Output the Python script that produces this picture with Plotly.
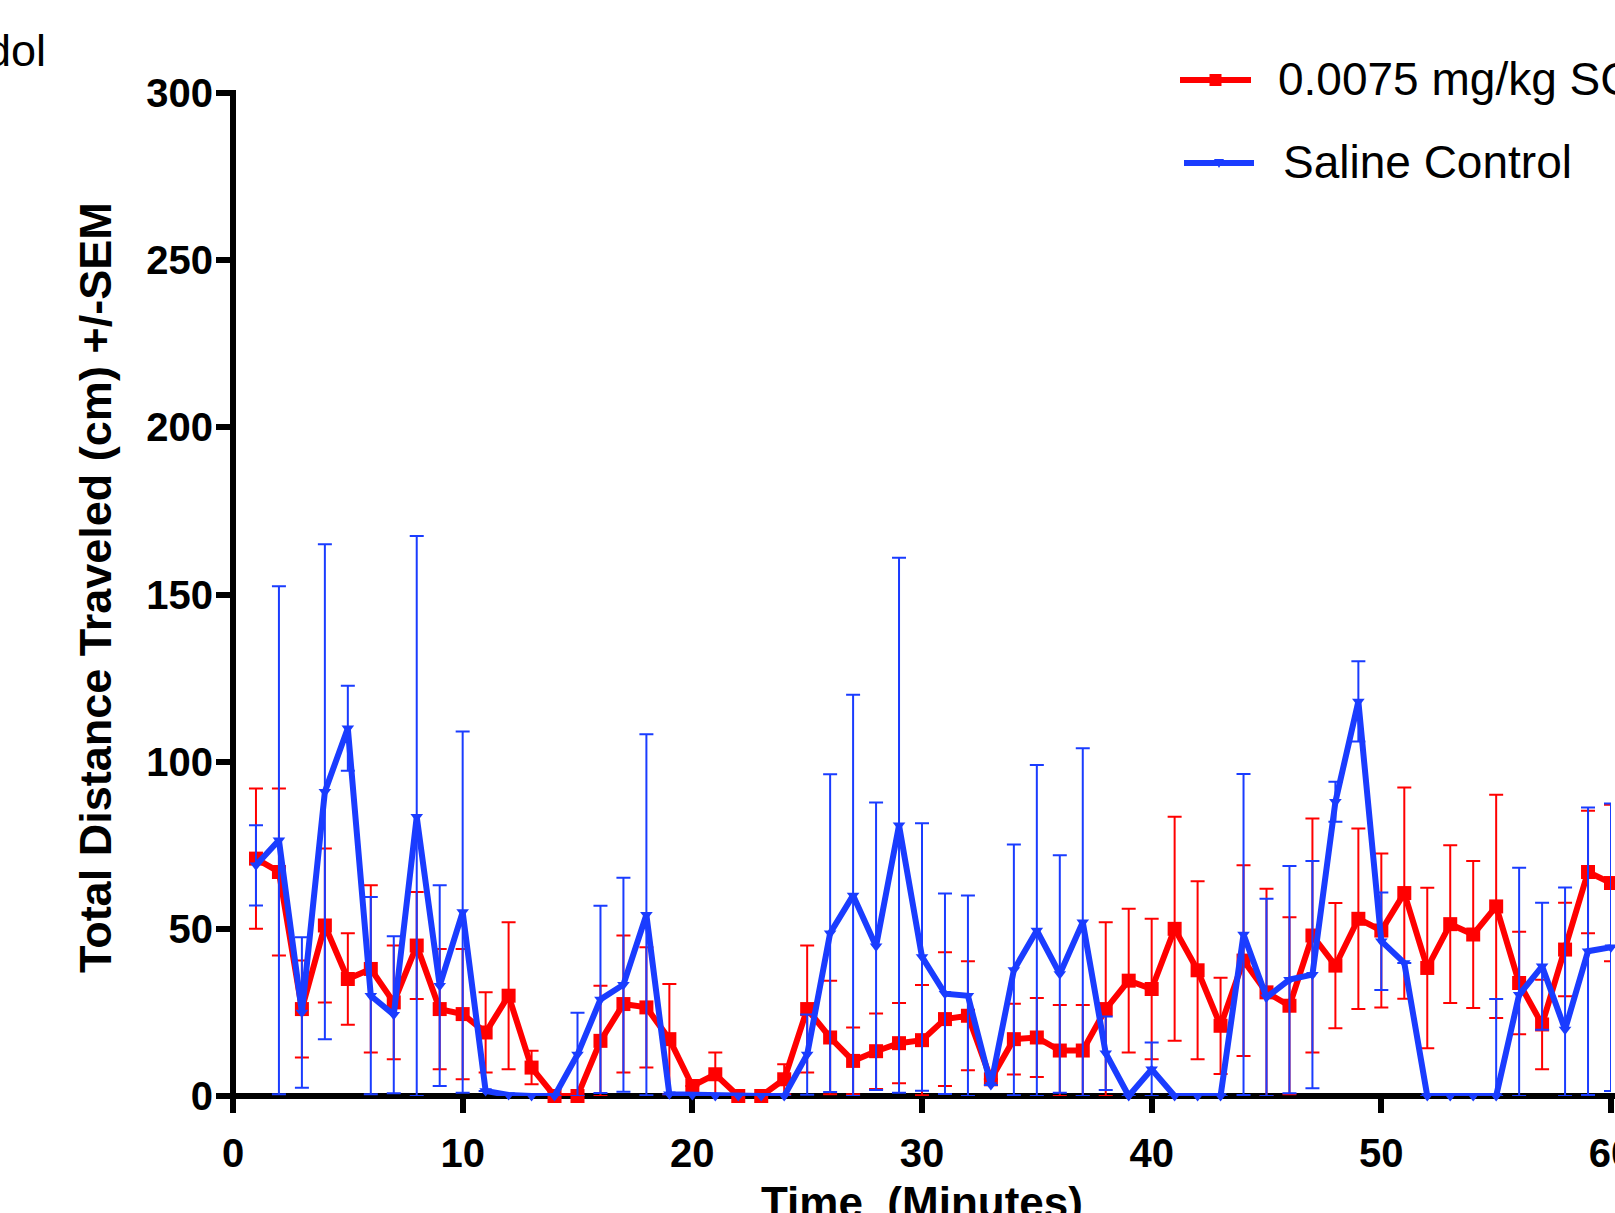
import plotly.graph_objects as go

# ---------------- data ----------------
minutes = list(range(1, 61))

dose_name = "0.0075 mg/kg SC"
dose_mean = [71, 67, 26, 51, 35, 38, 28, 45, 26, 24.5,
             19, 30, 8.5, 0, 0, 16.5, 27.5, 26.5, 17, 3,
             6.5, 0, 0, 5, 26, 17.5, 10.5, 13.4, 15.8, 16.7,
             23, 24, 5, 17, 17.5, 13.6, 13.6, 26, 34.5, 32,
             50, 37.6, 21, 40.5, 31, 27, 48, 39, 53, 49.5,
             60.7, 38.3, 51.4, 48.3, 56.7, 33.8, 21.4, 43.8, 67, 63.7]
dose_sem = [21, 25, 14.5, 23, 13.7, 25, 17, 16, 18, 19.5,
            12, 22, 5, 0, 0, 16.5, 20.5, 18, 16.5, 0,
            6.5, 0, 0, 4.5, 19, 17, 10, 11.3, 12, 16.5,
            20, 16.3, 0, 10.6, 11.8, 13.6, 13.6, 26, 21.5, 21,
            33.5, 26.6, 14.4, 28.5, 31, 26.5, 35, 18.7, 27, 23,
            31.6, 24, 23.6, 22, 33.4, 15.3, 13.4, 14, 18.3, 23.4]

saline_name = "Saline Control"
saline_mean = [69, 76.5, 25, 91, 110, 30, 24.3, 83.5, 33, 55,
               1.5, 0.3, 0, 0, 12.4, 28.9, 33.3, 54.2, 0.5, 0.3,
               0, 0, 0, 0, 12.4, 48.7, 60, 44.8, 81, 41.6,
               30.6, 30, 3.3, 37.7, 49.5, 36.5, 52, 12.8, 0, 8,
               0, 0, 0, 48.3, 29.5, 34.8, 36.3, 88, 118, 46.3,
               39.8, 0, 0, 0, 0, 30.3, 38.8, 19.9, 43.3, 44.5]
saline_sem = [12, 76, 22.5, 74, 12.7, 29.5, 23.5, 84, 30, 54,
              0, 0, 0, 0, 12.5, 28, 32, 54, 0, 0,
              0, 0, 0, 0, 12, 47.5, 60, 43, 80, 40,
              30, 30, 0, 37.5, 49.5, 35.5, 52, 11, 0, 8,
              0, 0, 0, 48, 29.5, 34, 34, 6, 12, 14.6,
              0, 0, 0, 0, 29, 38, 19, 42.5, 43, 43]

y_ticks = [0, 50, 100, 150, 200, 250, 300]
x_ticks = [0, 10, 20, 30, 40, 50, 60]
y_title = "Total Distance Traveled (cm) +/-SEM"
x_title = "Time\u00a0\u00a0(Minutes)"
top_label = "dol"

RED = "#FF0000"
BLUE = "#1A3CFF"
FONT = "Arial, 'Liberation Sans', sans-serif"

W, H = 1615, 1213
ML, MR, MT, MB = 233, 4, 93, 117
PW, PH = W - ML - MR, H - MT - MB
AX_W = 6


def px_x(p):
    return (p - ML) / PW


def px_y(p):
    return (H - MB - p) / PH


def err(mean, sem):
    up = [s if s > 0 else None for s in sem]
    down = [min(s, m) if s > 0 else None for m, s in zip(mean, sem)]
    return up, down


fig = go.Figure()

for name, mean, sem, color, sym, msize in [
    (dose_name, dose_mean, dose_sem, RED, "square", 14),
    (saline_name, saline_mean, saline_sem, BLUE, "triangle-down", 11),
]:
    up, down = err(mean, sem)
    fig.add_trace(go.Scatter(
        x=minutes, y=mean, name=name, mode="lines+markers",
        line=dict(color=color, width=6),
        marker=dict(symbol=sym, size=msize, color=color, line=dict(width=0)),
        error_y=dict(type="data", array=up, arrayminus=down, symmetric=False,
                     color=color, thickness=2, width=7),
        cliponaxis=False, showlegend=False,
    ))

axis_common = dict(
    showline=False, automargin=False,
    ticks="outside", ticklen=16, tickwidth=AX_W, tickcolor="black",
    showgrid=False, zeroline=False, layer="below traces",
    ticklabeloverflow="allow",
    tickfont=dict(family=FONT, size=40, color="black", weight="bold"),
)

fig.update_layout(
    width=W, height=H,
    margin=dict(l=ML, r=MR, t=MT, b=MB, pad=0, autoexpand=False),
    paper_bgcolor="white", plot_bgcolor="white",
    xaxis=dict(range=[0, 60], tickvals=x_ticks, ticktext=[str(v) for v in x_ticks],
               ticklabelstandoff=6, **axis_common),
    yaxis=dict(range=[0, 300], tickvals=y_ticks, ticktext=[str(v) for v in y_ticks],
               ticklabelstandoff=-5, **axis_common),
    showlegend=False,
)

# axis lines centred on x=0 and y=0 (drawn beneath the data)
fig.add_shape(type="line", xref="paper", yref="paper", layer="below",
              x0=px_x(ML - AX_W / 2), x1=px_x(W + 5), y0=0, y1=0,
              line=dict(color="black", width=AX_W))
fig.add_shape(type="line", xref="paper", yref="paper", layer="below",
              x0=0, x1=0, y0=px_y(H - MB + AX_W / 2), y1=px_y(MT - AX_W / 2),
              line=dict(color="black", width=AX_W))

# axis titles
fig.add_annotation(text=y_title, xref="paper", yref="paper",
                   x=px_x(95), y=px_y(588), textangle=-90, showarrow=False,
                   xanchor="center", yanchor="middle",
                   font=dict(family=FONT, size=45, color="black", weight="bold"))
fig.add_annotation(text=x_title, xref="paper", yref="paper",
                   x=px_x(922), y=px_y(1202), showarrow=False,
                   xanchor="center", yanchor="middle",
                   font=dict(family=FONT, size=44, color="black", weight="bold"))
fig.add_annotation(text=top_label, xref="paper", yref="paper",
                   x=px_x(48), y=px_y(50), showarrow=False,
                   xanchor="right", yanchor="middle",
                   font=dict(family=FONT, size=45, color="black"))

# manual legend
legend_rows = [(dose_name, RED, 80, "square", 1180, 1251, 1276),
               (saline_name, BLUE, 163, "tri", 1184, 1254, 1281)]
for name, color, yc, kind, x0, x1, tx in legend_rows:
    fig.add_shape(type="line", xref="paper", yref="paper",
                  x0=px_x(x0), x1=px_x(x1), y0=px_y(yc), y1=px_y(yc),
                  line=dict(color=color, width=6))
    cx = (x0 + x1) / 2
    if kind == "square":
        fig.add_shape(type="rect", xref="paper", yref="paper",
                      x0=px_x(cx - 6), x1=px_x(cx + 6), y0=px_y(yc - 6), y1=px_y(yc + 6),
                      fillcolor=color, line=dict(width=0))
    else:
        path = "M {:.5f} {:.5f} L {:.5f} {:.5f} L {:.5f} {:.5f} Z".format(
            px_x(cx - 5), px_y(yc - 4), px_x(cx + 5), px_y(yc - 4), px_x(cx), px_y(yc + 5))
        fig.add_shape(type="path", xref="paper", yref="paper", path=path,
                      fillcolor=color, line=dict(width=0))
    fig.add_annotation(text=name, xref="paper", yref="paper",
                       x=px_x(tx), y=px_y(yc - 1), showarrow=False,
                       xanchor="left", yanchor="middle",
                       font=dict(family=FONT, size=46, color="black"))

fig.write_html("out.html")
